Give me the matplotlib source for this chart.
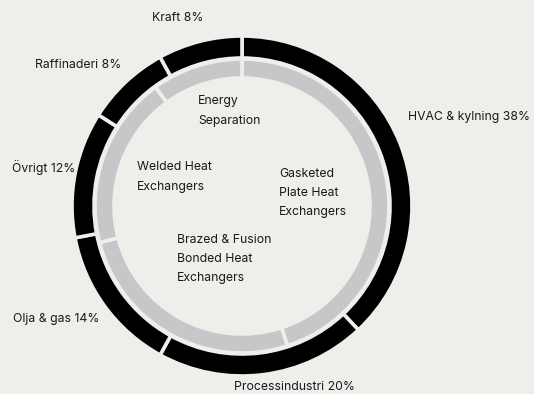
import matplotlib.pyplot as plt

# yttre ring: branscher
branscher = ["HVAC & kylning", "Processindustri", "Olja & gas", "Övrigt", "Raffinaderi", "Kraft"]
andel_bransch = [38, 20, 14, 12, 8, 8]

# inre ring: produktgrupper
produkter = ["Gasketed\nPlate Heat\nExchangers", "Brazed & Fusion\nBonded Heat\nExchangers",
             "Welded Heat\nExchangers", "Energy\nSeparation"]
andel_produkt = [45, 26, 19, 10]

BG = "#efeeeb"
GRA = "#c6c7c8"
H = 394

plt.rcParams['font.family'] = ['Inter', 'DejaVu Sans']

fig = plt.figure(figsize=(5.34, 3.94), dpi=100, facecolor=BG)
ax = fig.add_axes([0, 0, 1, 1])
ax.set_facecolor(BG)

cx, cy = 242, H - 206

ax.pie(andel_bransch, radius=170, center=(cx, cy), startangle=90, counterclock=False,
       colors=["black"] * len(andel_bransch),
       wedgeprops=dict(width=22, edgecolor=BG, linewidth=2.6))
ax.pie(andel_produkt, radius=147, center=(cx, cy), startangle=90, counterclock=False,
       colors=[GRA] * len(andel_produkt),
       wedgeprops=dict(width=19, edgecolor=BG, linewidth=2.6))

ax.set_xlim(0, 534)
ax.set_ylim(0, H)
ax.set_aspect("equal")
ax.axis("off")

# etiketter utanför ringen: (x, y, justering) i pixlar från övre vänstra hörnet
yttre_pos = [(408, 117, "left"), (294, 387, "center"), (13, 319, "left"),
             (75, 167, "right"), (35, 65, "left"), (152, 18, "left")]
for namn, v, (x, y, ha) in zip(branscher, andel_bransch, yttre_pos):
    ax.text(x, H - y, f"{namn} {v}%", fontsize=8.8, color="#1a1a1a", ha=ha, va="center")

# etiketter inne i ringen
inre_pos = [(279, 193), (177, 259), (137, 177), (198, 111)]
for namn, (x, y) in zip(produkter, inre_pos):
    ax.text(x, H - y, namn, fontsize=8.8, color="#1a1a1a", ha="left", va="center", linespacing=1.8)

fig.savefig("out.png", dpi=100, facecolor=BG)
